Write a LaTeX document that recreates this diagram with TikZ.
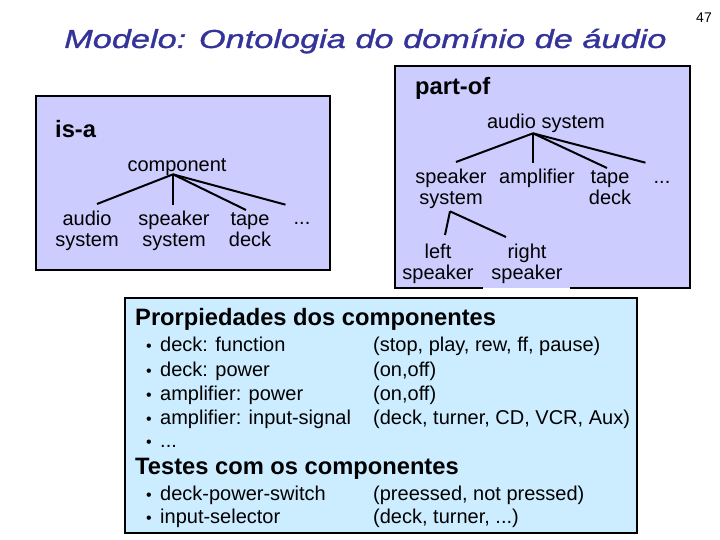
\documentclass[tikz,border=0pt]{standalone}
\usepackage{fontspec}
\setmainfont{Liberation Sans}
\newfontfamily\titlefont[FakeStretch=1.32,FakeBold=1.2]{Liberation Sans}
\definecolor{lav}{HTML}{CCCCFF}
\definecolor{lblue}{HTML}{CCECFF}
\definecolor{titleblue}{HTML}{333399}
\tikzset{
  box/.style={draw=black, line width=2pt},
  treetxt/.style={font=\fontsize{20}{20.5}\selectfont, align=center, inner sep=0pt, anchor=north},
  dotstxt/.style={font=\fontsize{20}{24}\selectfont, inner sep=0pt, anchor=base},
  hdr/.style={font=\bfseries\fontsize{23.7}{26}\selectfont, inner sep=0pt, anchor=base west},
  itemtxt/.style={font=\fontsize{20}{24}\selectfont, inner sep=0pt, anchor=base west},
  bul/.style={font=\fontsize{16}{16}\selectfont, inner sep=0pt, anchor=base},
  link/.style={line width=2pt},
}
\begin{document}
\begin{tikzpicture}[x=1pt,y=-1pt]
\useasboundingbox (0,0) rectangle (720,540);
% title and page number
\node[font=\titlefont\itshape\fontsize{26}{28}\selectfont, text=titleblue, inner sep=0pt, anchor=base west] (title) at (64,48) {Modelo: Ontologia do domínio de áudio};
\node[font=\fontsize{14}{16}\selectfont, inner sep=0pt, anchor=base] (pnum) at (704,23) {47};

% boxes
\filldraw[box, fill=lav] (36,96) rectangle (330,270);
\fill[lav] (395,66) rectangle (690,288);
\draw[box] (483,288) -- (395,288) -- (395,66) -- (690,66) -- (690,288) -- (570,288);
\filldraw[box, fill=lblue] (125,298) rectangle (637,533);

% is-a tree
\node[hdr] (isa) at (55,138) {is-a};
\node[treetxt, anchor=base] (comp) at (177,172) {component};
\node[treetxt] (as) at (87,211) {audio\\system};
\node[treetxt] (ss) at (174,211) {speaker\\system};
\node[treetxt] (td) at (250,211) {\vphantom{d}tape\\deck};
\node[dotstxt] (dots1) at (302,225) {...};
\draw[link] ([shift={(-4,-2)}]comp.south) -- ([shift={(10,-7)}]as.north);
\draw[link] ([shift={(-4,-2)}]comp.south) -- ([shift={(-1,-6)}]ss.north);
\draw[link] ([shift={(-4,-2)}]comp.south) -- ([shift={(-4,-1)}]td.north);
\draw[link] ([shift={(-4,-2)}]comp.south) -- ([shift={(-8,-18)}]dots1.north west);

% part-of tree
\node[hdr] (partof) at (415,95) {part-of};
\node[treetxt, anchor=base] (root) at (546,129) {audio system};
\node[treetxt] (spk) at (451,169) {speaker\\system};
\node[treetxt] (amp) at (537,169) {amplifier};
\node[treetxt] (tp) at (610,169) {\vphantom{d}tape\\deck};
\node[dotstxt] (dots2) at (662,184) {...};
\node[treetxt] (left) at (438,244) {left\\speaker};
\node[treetxt] (right) at (527,244) {right\\speaker};
\draw[link] ([shift={(-13,0)}]root.south) -- ([shift={(5,-7)}]spk.north);
\draw[link] ([shift={(-13,0)}]root.south) -- ([shift={(-4,-6)}]amp.north);
\draw[link] ([shift={(-13,0)}]root.south) -- ([shift={(-3,-1)}]tp.north);
\draw[link] ([shift={(-13,0)}]root.south) -- ([shift={(-8,-19)}]dots2.north west);
\draw[link] ([shift={(-1,2.8)}]spk.south) -- ([shift={(7,-9)}]left.north);
\draw[link] ([shift={(-1,2.8)}]spk.south) -- ([shift={(-21,-7)}]right.north);

% properties
\node[hdr] (h1) at (135,325) {Prorpiedades dos componentes};
\node[bul] (b1) at (149,351) {•};
\node[itemtxt] (i1) at (160,351) {deck: function};
\node[itemtxt] (v1) at (373,351) {(stop, play, rew, ff, pause)};
\node[bul] (b2) at (149,376) {•};
\node[itemtxt] (i2) at (160,376) {deck: power};
\node[itemtxt] (v2) at (373,376) {(on,off)};
\node[bul] (b3) at (149,400) {•};
\node[itemtxt] (i3) at (160,400) {amplifier: power};
\node[itemtxt] (v3) at (373,400) {(on,off)};
\node[bul] (b4) at (149,424) {•};
\node[itemtxt] (i4) at (160,424) {amplifier: input-signal};
\node[itemtxt] (v4) at (373,424) {(deck, turner, CD, VCR, Aux)};
\node[bul] (b5) at (149,447) {•};
\node[itemtxt] (i5) at (160,447) {...};

\node[hdr] (h2) at (135,474) {Testes com os componentes};
\node[bul] (b6) at (149,500) {•};
\node[itemtxt] (i6) at (160,500) {deck-power-switch};
\node[itemtxt] (v6) at (373,500) {(preessed, not pressed)};
\node[bul] (b7) at (149,523) {•};
\node[itemtxt] (i7) at (160,523) {input-selector};
\node[itemtxt] (v7) at (373,523) {(deck, turner, ...)};
\end{tikzpicture}
\end{document}
